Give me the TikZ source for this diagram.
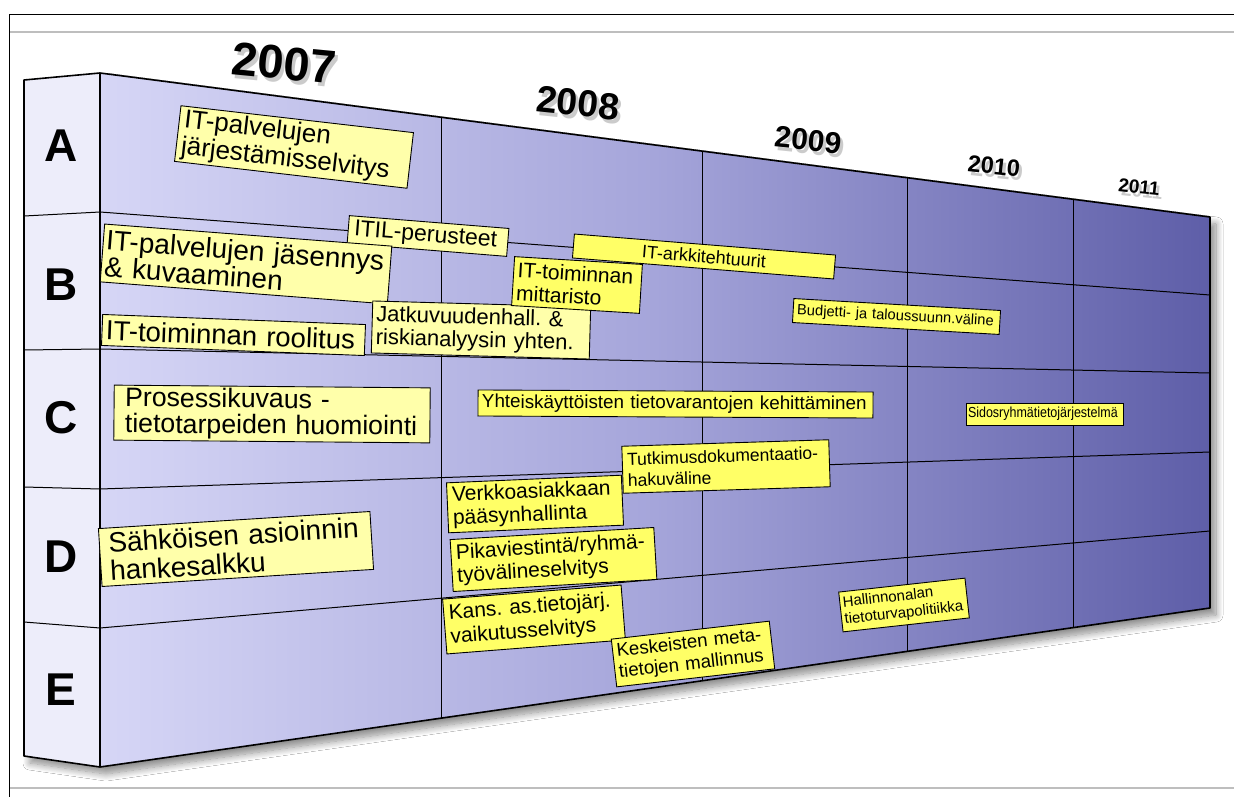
\documentclass[tikz,border=0pt]{standalone}
\usepackage{fontspec}
\setmainfont{Liberation Sans}
\usetikzlibrary{shadows.blur}
\definecolor{paleY}{RGB}{255,255,170}
\definecolor{brightY}{RGB}{255,255,102}
\definecolor{leftface}{RGB}{237,237,250}
\definecolor{gA}{RGB}{214,214,246}
\definecolor{gB}{RGB}{165,165,218}
\definecolor{gC}{RGB}{94,94,168}
\definecolor{frameGray}{RGB}{190,190,190}
\pgfdeclarehorizontalshading{faceshade}{100bp}{color(0bp)=(gA); color(25bp)=(gA); color(50bp)=(gB); color(75bp)=(gC); color(100bp)=(gC)}
\newcommand\yearlab[6]{%
  \node[font=\fontsize{#3}{#3}\selectfont\bfseries, rotate=#4, inner sep=0pt, text=black!45, opacity=0.45] (#6s) at ({#1+3},{#2+4}) {#5};
  \node[font=\fontsize{#3}{#3}\selectfont\bfseries, rotate=#4, inner sep=0pt] (#6) at (#1,#2) {#5};
}
\begin{document}
\begin{tikzpicture}[x=1pt,y=-1pt,
  note/.style n args={5}{draw=black, line width=0.9pt, fill=#5, text width=#1, minimum height=#2,
    font=\fontsize{#3}{#4}\selectfont, align=left, inner ysep=0pt, inner xsep=5pt},
  rowlabel/.style={font=\fontsize{46}{46}\selectfont\bfseries, inner sep=0pt},
  edge/.style={line width=1.6pt, line join=round},
  grid/.style={line width=1pt}]
\useasboundingbox (0,0) rectangle (1234,797);
\fill[white] (0,0) rectangle (1234,797);
% page frame
\draw[frameGray, line width=1.5pt] (9,32) -- (1234,32);
\draw[frameGray, line width=1.5pt] (9,788) -- (1234,788);
\draw[black, line width=1pt] (9,797) -- (9,15) -- (1234,15);
% box with shadow
\fill[white, blur shadow={shadow xshift=6pt, shadow yshift=-7pt, shadow blur radius=7pt, shadow blur steps=12, shadow opacity=45}]
  (24,80) -- (100,73) -- (1210,217) -- (1210,608) -- (100,767) -- (24,756) -- cycle;
\shade[shading=faceshade] (100,73) -- (1210,217) -- (1210,608) -- (100,767) -- cycle;
\fill[leftface] (24,80) -- (100,73) -- (100,767) -- (24,756) -- cycle;
% row lines
\draw[grid] (24,216) -- (100,212) -- (1210,295);
\draw[grid] (24,350) -- (100,349) -- (1210,373);
\draw[grid] (24,487) -- (100,489) -- (1210,452);
\draw[grid] (24,622) -- (100,628) -- (1210,531);
% column lines
\draw[grid] (441,117.2) -- (441,718.2);
\draw[grid] (702,151.1) -- (702,680.8);
\draw[grid] (907,177.7) -- (907,651.4);
\draw[grid] (1073,199.2) -- (1073,627.7);
% outline
\draw[edge] (24,80) -- (100,73) -- (1210,217) -- (1210,608) -- (100,767) -- (24,756) -- cycle;
\draw[edge] (100,73) -- (100,767);
% year labels
\yearlab{284}{63}{47}{-5.5}{2007}{y2007}
\yearlab{578}{103}{37.5}{-6}{2008}{y2008}
\yearlab{808}{140}{30}{-6}{2009}{y2009}
\yearlab{994}{166}{23.5}{-6}{2010}{y2010}
\yearlab{1139}{187}{19}{-6}{2011}{y2011}
% row letters
\node[rowlabel] (rA) at (61,146) {A};
\node[rowlabel] (rB) at (61,285) {B};
\node[rowlabel] (rC) at (61,418) {C};
\node[rowlabel] (rD) at (61,557) {D};
\node[rowlabel] (rE) at (61,690) {E};
% notes
\node[note={224pt}{56}{26}{27}{paleY}, inner xsep=5pt, rotate=-6.6] (n1) at (294,147) {IT-palvelujen\\järjestämisselvitys};
\node[note={148pt}{28}{23}{23}{paleY}, inner xsep=6pt, rotate=-4.6] (n2) at (428,236) {ITIL-perusteet};
\node[note={282pt}{58}{28}{27}{paleY}, inner xsep=3pt, rotate=-4.4] (n3) at (246,264) {IT-palvelujen~jäsennys\\\&~kuvaaminen};
\node[note={255pt}{31}{27.5}{28}{paleY}, inner xsep=4pt, rotate=-2.2] (n6) at (233.5,335) {IT-toiminnan~roolitus};
\node[note={210pt}{52}{22}{23}{paleY}, inner xsep=4pt, rotate=-1.6] (n7) at (481,330) {Jatkuvuudenhall.~\&\\riskianalyysin~yhten.};
\node[note={252pt}{24}{18}{18}{brightY}, align=center, rotate=-4.6] (n4) at (704,256.5) {IT-arkkitehtuurit};
\node[note={120pt}{49}{21}{23}{brightY}, inner xsep=4pt, rotate=-3.5] (n5) at (577,285) {IT-toiminnan\\mittaristo};
\node[note={199pt}{24}{14.7}{15}{brightY}, inner xsep=4pt, rotate=-3.3] (n8) at (896.5,316.5) {Budjetti-~ja~taloussuunn.väline};
\node[note={294pt}{55}{26.7}{26}{paleY}, inner xsep=11pt, rotate=-0.5] (n9) at (272,414) {Prosessikuvaus -\\tietotarpeiden~huomiointi};
\node[note={387pt}{26}{18.8}{19}{brightY}, inner xsep=4pt, rotate=-0.3] (n10) at (675.5,404) {Yhteiskäyttöisten~tietovarantojen~kehittäminen};
\node[note={153pt}{22}{14.5}{15}{brightY}, inner xsep=2pt] (n11) at (1044.5,414) {\scalebox{0.86}[1]{Sidosryhmätietojärjestelmä}};
\node[note={165pt}{50}{21}{23}{brightY}, inner xsep=5pt, rotate=2.5] (n13) at (535,504) {Verkkoasiakkaan\\pääsynhallinta};
\node[note={197pt}{47}{17.5}{21}{brightY}, inner xsep=5pt, rotate=1.8] (n12) at (726,466.5) {Tutkimusdokumentaatio-\\hakuväline};
\node[note={254pt}{58}{28}{28}{paleY}, inner xsep=9pt, rotate=3.6] (n14) at (236,549) {Sähköisen~asioinnin\\hankesalkku};
\node[note={194pt}{52}{21}{23}{brightY}, inner xsep=5pt, rotate=3.4] (n15) at (553.5,559.5) {Pikaviestintä/ryhmä-\\työvälineselvitys};
\node[note={169pt}{55}{21}{24}{brightY}, inner xsep=5pt, rotate=4.5] (n16) at (534,619.5) {Kans.~as.tietojärj.\\vaikutusselvitys};
\node[note={151pt}{48}{18.7}{21}{brightY}, inner xsep=4pt, rotate=6.5] (n18) at (693,654) {Keskeisten~meta-\\tietojen~mallinnus};
\node[note={121pt}{40}{15}{17}{brightY}, inner xsep=3pt, rotate=6.3] (n17) at (904,605) {Hallinnonalan\\tietoturvapolitiikka};
\end{tikzpicture}
\end{document}
